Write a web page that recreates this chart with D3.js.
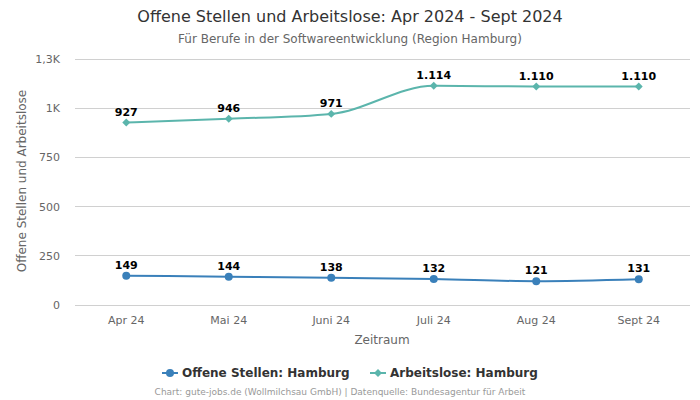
<!DOCTYPE html>
<html><head><meta charset="utf-8">
<script src="https://cdn.jsdelivr.net/npm/d3@7"></script>
<style>body{margin:0;background:#fff;font-family:"DejaVu Sans",sans-serif;}</style>
</head><body><svg id="c" width="700" height="400"></svg>
<script>
const categories = ["Apr 24","Mai 24","Juni 24","Juli 24","Aug 24","Sept 24"];
const offeneStellen = [149,144,138,132,121,131];
const arbeitslose = [927,946,971,1114,1110,1110];
const yTicks = [0,250,500,750,1000,1250];
const yTickLabels = ["0","250","500","750","1K","1,3K"];
const seriesNames = ["Offene Stellen: Hamburg","Arbeitslose: Hamburg"];
const fmt = v => d3.format(",")(v).replace(/,/g,".");

const svg = d3.select("#c");
const x = d3.scaleBand().domain(categories).range([75,690]);
const y = d3.scaleLinear().domain([0,1250]).range([305,59]);
const cx = d => x(d) + x.bandwidth()/2;

svg.append("text").attr("x",350).attr("y",22).attr("text-anchor","middle")
  .attr("font-size",16).attr("fill","#333").text("Offene Stellen und Arbeitslose: Apr 2024 - Sept 2024");
svg.append("text").attr("x",350).attr("y",43).attr("text-anchor","middle")
  .attr("font-size",12).attr("fill","#666").text("Für Berufe in der Softwareentwicklung (Region Hamburg)");

// grid
svg.append("g").selectAll("line").data(yTicks).join("line")
  .attr("x1",75).attr("x2",690).attr("y1",d=>y(d)).attr("y2",d=>y(d))
  .attr("stroke","#d0d0d0").attr("stroke-width",1).attr("shape-rendering","crispEdges");

const ya = svg.append("g").attr("transform","translate(75,0)")
  .call(d3.axisLeft(y).tickValues(yTicks).tickFormat((d,i)=>yTickLabels[i]).tickSize(0).tickPadding(15));
ya.select(".domain").remove();
ya.selectAll("text").attr("font-size",11).attr("fill","#666").attr("font-family","DejaVu Sans");

const xa = svg.append("g").attr("transform","translate(0,305)")
  .call(d3.axisBottom(x).tickSize(0).tickPadding(11));
xa.select(".domain").remove();
xa.selectAll("text").attr("font-size",11).attr("fill","#666").attr("font-family","DejaVu Sans");

svg.append("text").attr("x",382).attr("y",344).attr("text-anchor","middle")
  .attr("font-size",12).attr("fill","#666").text("Zeitraum");
svg.append("text").attr("transform","translate(26,181) rotate(-90)").attr("text-anchor","middle")
  .attr("font-size",12).attr("fill","#666").text("Offene Stellen und Arbeitslose");

const colors = ["#3a80ba","#5bb5ac"];
const data = [offeneStellen, arbeitslose];
const line = d3.line().x((d,i)=>cx(categories[i])).y(d=>y(d)).curve(d3.curveMonotoneX);
const diamond = d3.symbol().type(d3.symbolDiamond2).size(40);

data.forEach((s,k)=>{
  svg.append("path").attr("d",line(s)).attr("fill","none").attr("stroke",colors[k]).attr("stroke-width",2);
  const g = svg.append("g");
  if(k===0){
    g.selectAll("circle").data(s).join("circle")
      .attr("cx",(d,i)=>cx(categories[i])).attr("cy",d=>y(d)).attr("r",4).attr("fill",colors[k]);
  } else {
    g.selectAll("path").data(s).join("path")
      .attr("d",diamond)
      .attr("transform",(d,i)=>`translate(${cx(categories[i])},${y(d)})`).attr("fill",colors[k]);
  }
  svg.append("g").selectAll("text").data(s).join("text")
    .attr("x",(d,i)=>cx(categories[i])).attr("y",d=>y(d)-7)
    .attr("text-anchor","middle").attr("font-size",11).attr("font-weight","bold").attr("fill","#000")
    .text(fmt);
});

// legend
const leg = svg.append("g");
const lx = [162,370];
seriesNames.forEach((n,k)=>{
  const g = leg.append("g").attr("transform",`translate(${lx[k]},373)`);
  g.append("line").attr("x1",0).attr("x2",16).attr("stroke",colors[k]).attr("stroke-width",2);
  if(k===0) g.append("circle").attr("cx",8).attr("r",4).attr("fill",colors[k]);
  else g.append("path").attr("d",diamond).attr("transform","translate(8,0)").attr("fill",colors[k]);
  g.append("text").attr("x",20).attr("y",4).attr("font-size",12).attr("font-weight","bold").attr("fill","#333").text(n);
});

svg.append("text").attr("x",340).attr("y",395).attr("text-anchor","middle")
  .attr("font-size",9).attr("fill","#999").text("Chart: gute-jobs.de (Wollmilchsau GmbH) | Datenquelle: Bundesagentur für Arbeit");
</script></body></html>
